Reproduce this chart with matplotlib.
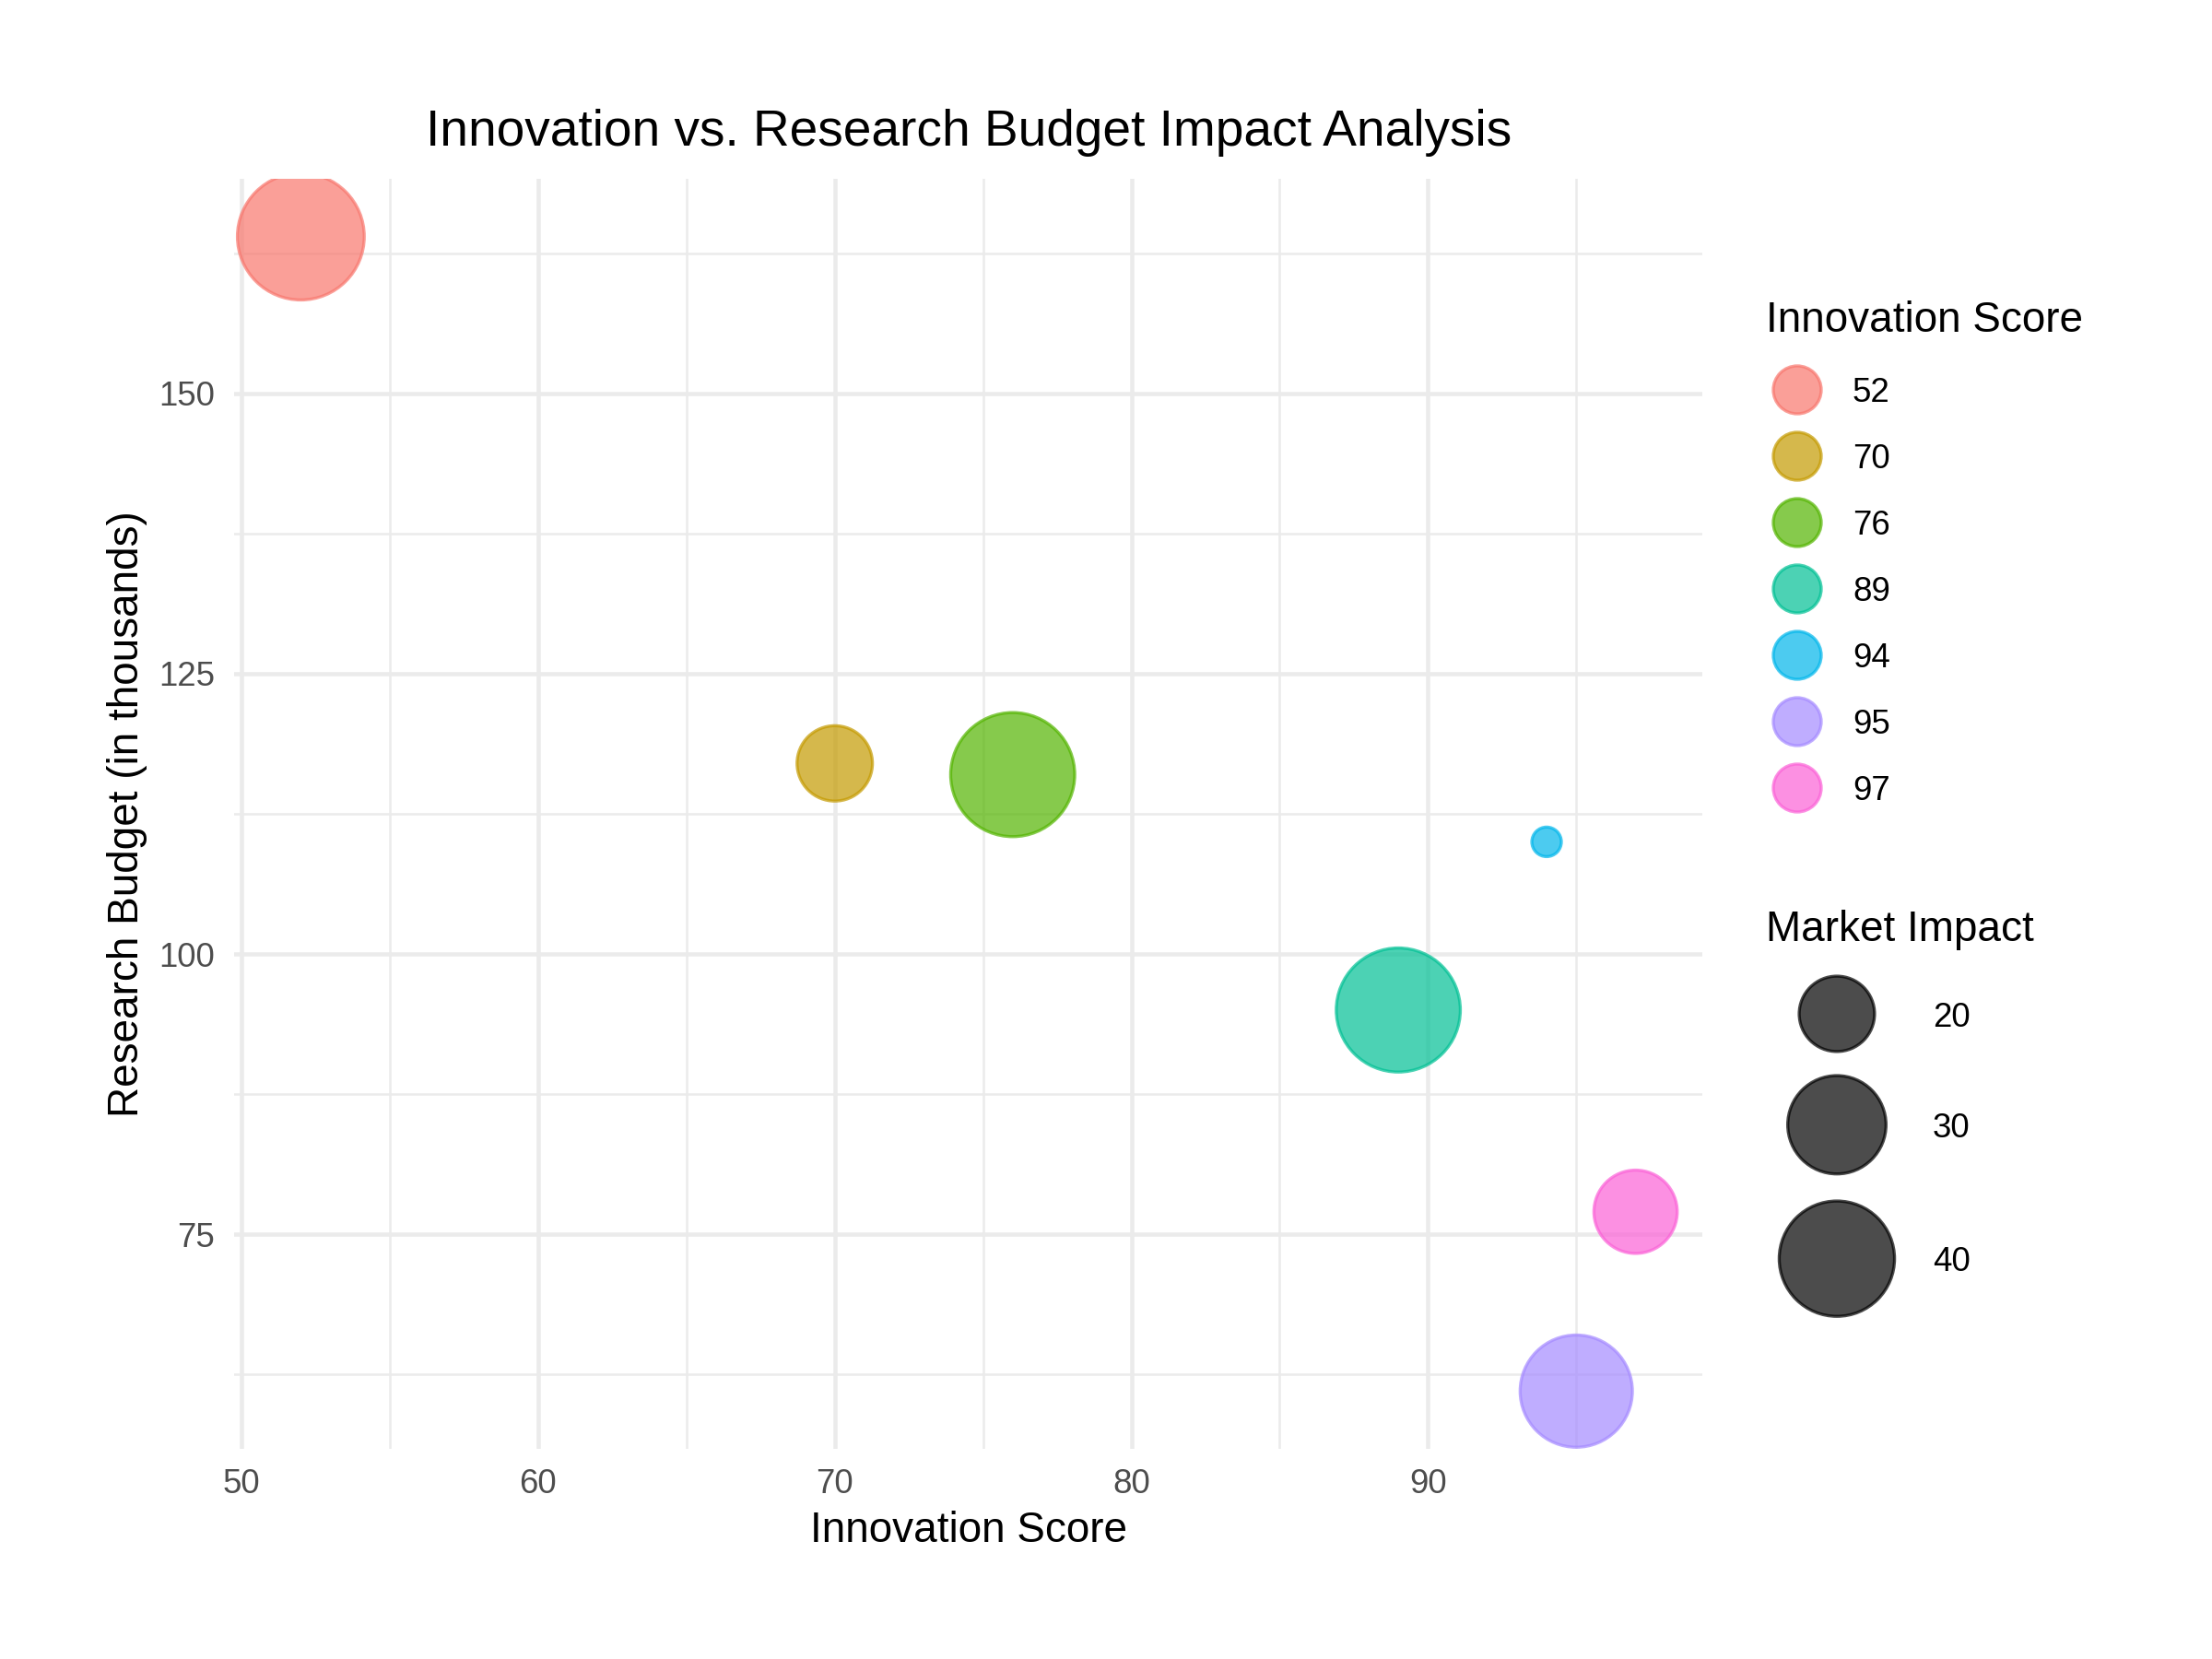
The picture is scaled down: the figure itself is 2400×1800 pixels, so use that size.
import matplotlib
matplotlib.use("Agg")
import matplotlib.pyplot as plt
import numpy as np

# --- data ---
innovation_score = [52, 70, 76, 89, 94, 95, 97]
research_budget = [164, 117, 116, 95, 110, 61, 77]
market_impact = [48, 20, 46, 46, 12, 38, 23]
size_breaks = [20, 30, 40]
colors = ["#F8766D", "#C49A00", "#53B400", "#00C094", "#00B6EB", "#A58AFF", "#FB61D7"]

plt.rcParams["font.family"] = ["Liberation Sans", "DejaVu Sans"]

W, H, DPI = 2400, 1800, 300
PX = 72 / DPI  # points per pixel


def radius_px(v):
    # ggplot-like area scale: smallest value -> 16 px, largest -> 68.8 px
    lo, hi = min(market_impact), max(market_impact)
    frac = (np.asarray(v, float) - lo) / (hi - lo)
    return 16 + (68.8 - 16) * np.sqrt(frac)


def marker_area(r_px):
    return (2 * np.asarray(r_px) * PX) ** 2


fig = plt.figure(figsize=(W / DPI, H / DPI), dpi=DPI)

# panel box in pixels
left, right, top, bottom = 254, 1847, 194, 1572
ax = fig.add_axes([left / W, 1 - bottom / H, (right - left) / W, (bottom - top) / H])

ax.scatter(innovation_score, research_budget, s=marker_area(radius_px(market_impact)),
           c=colors, alpha=0.7, edgecolors=colors, linewidths=0.8, zorder=3)

ax.set_xlim(49.75, 99.25)
ax.set_ylim(55.85, 169.15)
ax.set_xticks([50, 60, 70, 80, 90])
ax.set_xticks([55, 65, 75, 85, 95], minor=True)
ax.set_yticks([75, 100, 125, 150])
ax.set_yticks([62.5, 87.5, 112.5, 137.5, 162.5], minor=True)
ax.grid(True, which="major", color="#EBEBEB", linewidth=1.1)
ax.grid(True, which="minor", color="#EBEBEB", linewidth=0.6)
ax.set_axisbelow(True)
for sp in ax.spines.values():
    sp.set_visible(False)
ax.tick_params(which="both", length=0, labelsize=8.8, labelcolor="#4D4D4D")
ax.tick_params(axis="x", pad=5)
ax.tick_params(axis="y", pad=5)

# titles
fig.text(1051 / W, 1 - 144 / H, "Innovation vs. Research Budget Impact Analysis",
         ha="center", va="center", fontsize=13.2)
fig.text(1051 / W, 1 - 1661 / H, "Innovation Score", ha="center", va="center", fontsize=11)
fig.text(138 / W, 1 - 883 / H, "Research Budget (in thousands)", ha="center", va="center",
         rotation=90, fontsize=11)

# --- legends, drawn in a pixel-coordinate overlay ---
lax = fig.add_axes([0, 0, 1, 1])
lax.set_xlim(0, W)
lax.set_ylim(H, 0)
lax.axis("off")

lax.text(1916, 348, "Innovation Score", ha="left", va="center", fontsize=11)
key_y = 423 + 72 * np.arange(len(innovation_score))
lax.scatter(np.full(len(key_y), 1950), key_y, s=marker_area(26), c=colors, alpha=0.7,
            edgecolors=colors, linewidths=0.8)
for y, score in zip(key_y, innovation_score):
    lax.text(2010, y + 4, str(score), ha="left", va="center", fontsize=8.8)

lax.text(1916, 1009, "Market Impact", ha="left", va="center", fontsize=11)
r_breaks = radius_px(size_breaks)
size_y = [1100]
for i in range(1, len(size_breaks)):
    size_y.append(size_y[-1] + r_breaks[i - 1] + r_breaks[i] + 12 + 0.15 * (r_breaks[i - 1] + r_breaks[i]))
lax.scatter(np.full(len(size_breaks), 1993), size_y, s=marker_area(r_breaks),
            c="black", alpha=0.7, edgecolors="black", linewidths=0.8)
for y, b in zip(size_y, size_breaks):
    lax.text(2097, y + 4, str(b), ha="left", va="center", fontsize=8.8)

fig.savefig("out.png", dpi=DPI, facecolor="white")
